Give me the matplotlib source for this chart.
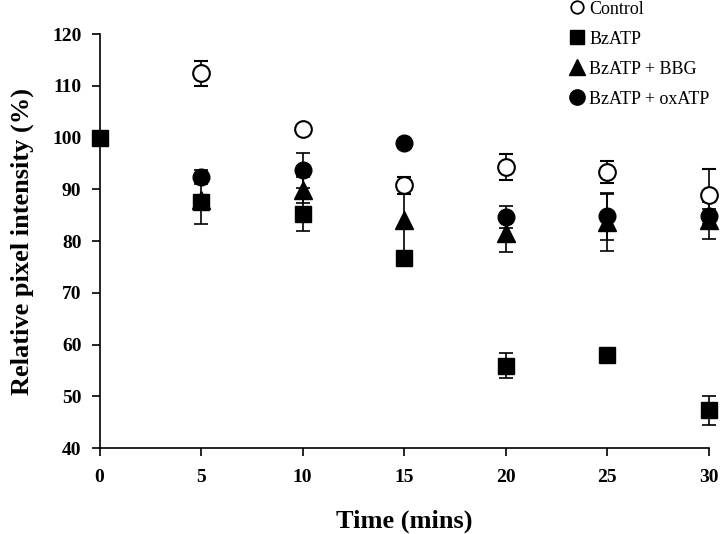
import matplotlib
matplotlib.use("Agg")
import matplotlib.pyplot as plt
from matplotlib.lines import Line2D
import numpy as np

plt.rcParams['font.family'] = ['Liberation Serif', 'DejaVu Serif']

# time points (mins) and relative pixel intensity (%)
t_control = [5, 10, 15, 20, 25, 30]
control = [112.4, 101.6, 90.8, 94.4, 93.3, 88.9]
control_err = [2.4, 0.0, 1.6, 2.5, 2.1, 5.0]

t_bzatp = [0, 5, 10, 15, 20, 25, 30]
bzatp = [100.0, 87.5, 85.2, 76.7, 55.9, 58.0, 47.3]
bzatp_err = [0.0, 4.1, 3.3, 0.0, 2.4, 0.8, 2.8]

t_bbg = [5, 10, 15, 20, 25, 30]
bbg = [88.0, 89.8, 84.0, 81.5, 83.6, 84.0]
bbg_err = [0.0, 2.5, 7.0, 3.6, 5.5, 3.5]

t_ox = [5, 10, 15, 20, 25, 30]
oxatp = [92.4, 93.7, 98.9, 84.7, 84.8, 84.8]
ox_err = [1.3, 3.4, 0.0, 2.1, 4.5, 1.5]

labels = ['Control', 'BzATP', 'BzATP + BBG', 'BzATP + oxATP']

fig = plt.figure(figsize=(7.2, 5.34), dpi=100)
ax = fig.add_axes([0.1382, 0.161, 0.8465, 0.775])

ekw = dict(ecolor='black', elinewidth=1.2, capsize=5, capthick=1.2, linestyle='none')

sets = [
    (t_bbg, bbg, bbg_err, dict(marker='^', ms=12.5, mfc='black', mec='black')),
    (t_bzatp, bzatp, bzatp_err, dict(marker='s', ms=12, mfc='black', mec='black')),
    (t_ox, oxatp, ox_err, dict(marker='o', ms=12, mfc='black', mec='black')),
    (t_control, control, control_err, dict(marker='o', ms=12, mfc='white', mec='black', mew=1.5)),
]
for x, y, e, mk in sets:
    cont = ax.errorbar(x, y, yerr=e, **mk, **ekw)
    for art in cont.get_children():
        art.set_clip_on(False)

ax.set_xlim(0, 30)
ax.set_ylim(40, 120)
ax.set_xticks(np.arange(0, 31, 5))
ax.set_yticks(np.arange(40, 121, 10))
ax.spines['top'].set_visible(False)
ax.spines['right'].set_visible(False)
ax.spines['left'].set_linewidth(1.2)
ax.spines['bottom'].set_linewidth(1.2)
ax.tick_params(direction='out', length=6, width=1.2, labelsize=14)
ax.tick_params(axis='x', pad=9)
ax.tick_params(axis='y', pad=7)
for lab in ax.get_xticklabels() + ax.get_yticklabels():
    lab.set_fontweight('bold')

ax.set_xlabel('Time (mins)', fontsize=19, fontweight='bold', va='center')
ax.xaxis.set_label_coords(0.5, -0.178)
ax.set_ylabel('Relative pixel intensity (%)', fontsize=19, fontweight='bold', va='center')
ax.yaxis.set_label_coords(-0.126, 0.5)

# legend
handles = [
    Line2D([], [], marker='o', ls='none', ms=9, mfc='white', mec='black', mew=1.3),
    Line2D([], [], marker='s', ls='none', ms=10.5, mfc='black', mec='black'),
    Line2D([], [], marker='^', ls='none', ms=11, mfc='black', mec='black'),
    Line2D([], [], marker='o', ls='none', ms=11, mfc='black', mec='black'),
]
fig.legend(handles, labels, loc='upper left', bbox_to_anchor=(0.782, 1.012),
           frameon=False, fontsize=13, handlelength=0.8, handletextpad=0.25,
           labelspacing=0.72, borderaxespad=0)

fig.savefig('out.png', dpi=100)
